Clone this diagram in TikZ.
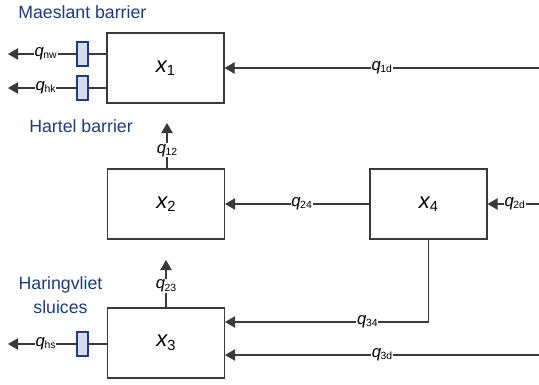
\documentclass[tikz,border=0pt]{standalone}
\usepackage{fontspec}
\setmainfont{Liberation Sans}
\usetikzlibrary{arrows.meta}
\definecolor{lbl}{HTML}{1F3B78}
\definecolor{gatefill}{HTML}{D5DCEC}
\definecolor{ln}{HTML}{3A3A3A}
\newcommand\qv[1]{\textit{q}\kern-0.3pt\raisebox{-0.25ex}{\fontsize{7.8pt}{8pt}\selectfont #1}}
\newcommand\xv[1]{\textit{x}\kern-0.5pt\raisebox{-0.3ex}{\fontsize{11pt}{12pt}\selectfont #1}}
\begin{document}
\begin{tikzpicture}[x=0.75pt,y=-0.75pt,
  statebox/.style={draw=ln,line width=0.8pt,minimum width=87.75pt,minimum height=52.5pt,inner sep=0pt,font=\fontsize{16.5pt}{18pt}\selectfont},
  gate/.style={draw=lbl,fill=gatefill,line width=0.8pt,minimum width=8.25pt,minimum height=18pt,inner sep=0pt},
  flow/.style={draw=ln,line width=0.8pt},
  arr/.style={flow,-{Triangle[length=7.5pt,width=8.5pt]}},
  qlab/.style={fill=white,inner sep=0.6pt,font=\fontsize{12.5pt}{13pt}\selectfont},
  area/.style={text=lbl,font=\fontsize{13.3pt}{16pt}\selectfont,inner sep=0pt}]
\useasboundingbox (0,0) rectangle (539,385);
% boxes
\node[statebox] (x1) at (165.5,68) {\xv{1}};
\node[statebox] (x2) at (166,204) {\xv{2}};
\node[statebox] (x3) at (166,343) {\xv{3}};
\node[statebox] (x4) at (428.5,204) {\xv{4}};
% gates
\node[gate] (gnw) at (82.5,54) {};
\node[gate] (ghk) at (82.5,88) {};
\node[gate] (ghs) at (82.5,344) {};
% coordinates
\coordinate (enw) at (8,54);
\coordinate (ehk) at (8,88);
\coordinate (ehs) at (8,344);
\coordinate (s1d) at (539,68);
\coordinate (s2d) at (539,204);
\coordinate (s3d) at (539,355);
\coordinate (t12) at (167,123);
\coordinate (t23) at (166,260);
\coordinate (c34) at (428.5,322);
% gate lines
\draw[flow] (x1.west |- gnw) -- (gnw);
\draw[arr] (gnw) -- node[qlab,pos=0.45]{\qv{nw}} (enw);
\draw[flow] (x1.west |- ghk) -- (ghk);
\draw[arr] (ghk) -- node[qlab,pos=0.45]{\qv{hk}} (ehk);
\draw[flow] (x3.west |- ghs) -- (ghs);
\draw[arr] (ghs) -- node[qlab,pos=0.45]{\qv{hs}} (ehs);
% flows
\draw[arr] (s1d) -- node[qlab,pos=0.5]{\qv{1d}} (x1.east |- s1d);
\draw[arr] (x2.north -| t12) -- node[qlab,pos=0.4]{\qv{12}} (t12);
\draw[arr] (x3.north -| t23) -- node[qlab,pos=0.45]{\qv{23}} (t23);
\draw[arr] (x4.west) -- node[qlab,pos=0.47]{\qv{24}} (x2.east);
\draw[arr] (s2d) -- node[qlab,pos=0.47]{\qv{2d}} (x4.east);
\draw[arr] (x4.south) -- (c34) -- node[qlab,pos=0.3]{\qv{34}} (x3.east |- c34);
\draw[arr] (s3d) -- node[qlab,pos=0.5]{\qv{3d}} (x3.east |- s3d);
% area labels
\node[area,anchor=west] (lm) at (18,12) {Maeslant barrier};
\node[area,anchor=west] (lh) at (29,126) {Hartel barrier};
\node[area,align=center,font=\fontsize{13.3pt}{17.5pt}\selectfont] (lhv) at (60.5,295) {Haringvliet\\sluices};
\end{tikzpicture}
\end{document}
